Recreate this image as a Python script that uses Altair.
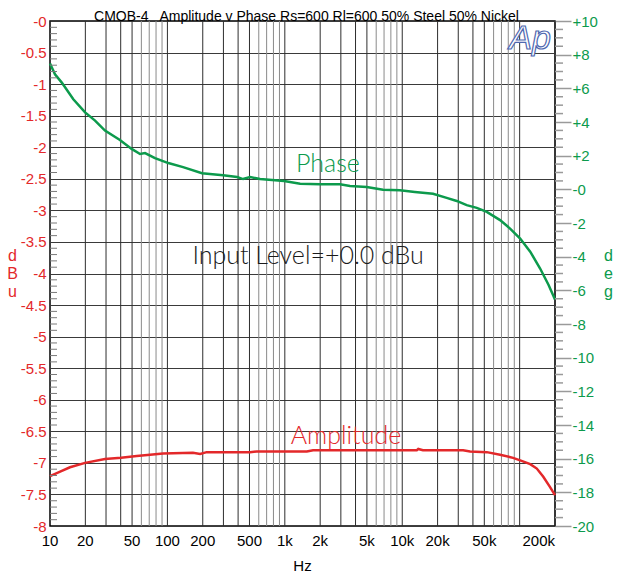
import altair as alt
import pandas as pd

# ---- data ----
amp_freq = [10, 12.2, 14.8, 19.9, 29.4, 40.3, 54.8, 71.1, 91.7, 165, 190, 216, 506, 577,
            1540, 1740, 13300, 13700, 15000, 33000, 37800, 52500, 68100, 87900, 101000,
            123000, 140000, 159000, 181000, 200000]
amp_db = [-7.21, -7.14, -7.07, -7.00, -6.94, -6.92, -6.89, -6.87, -6.85, -6.84, -6.86, -6.83,
          -6.83, -6.82, -6.82, -6.80, -6.80, -6.78, -6.80, -6.80, -6.82, -6.83, -6.87, -6.92,
          -6.96, -7.02, -7.09, -7.22, -7.38, -7.51]

phase_freq = [10, 11.03, 12.6, 15.8, 19.9, 24.2, 29.4, 39.4, 49.6, 58.5, 64.5, 78.4, 101.8,
              136, 197, 298, 392, 441, 506, 615, 985, 1350, 2000, 2950, 3590, 4980, 6860,
              9570, 12800, 18300, 23900, 29100, 35400, 43100, 52500, 68100, 82900, 101000,
              123000, 149000, 176000, 200000]
phase_deg = [7.48, 6.83, 6.34, 5.35, 4.57, 4.08, 3.49, 2.93, 2.40, 2.10, 2.15, 1.85, 1.56,
             1.32, 0.96, 0.83, 0.73, 0.61, 0.73, 0.61, 0.49, 0.33, 0.30, 0.30, 0.20, 0.14,
             -0.02, -0.06, -0.16, -0.26, -0.51, -0.69, -0.94, -1.10, -1.34, -1.83, -2.33,
             -2.92, -3.70, -4.69, -5.67, -6.55]

x_labels = [10, 20, 50, 100, 200, 500, 1000, 2000, 5000, 10000, 20000, 50000]
x_labels_end = [200000]
x_title = ["Hz"]
x_title_f = [1414]
grid_dark = [m * 10 ** e for e in range(1, 6) for m in (1, 2, 3, 4, 5) if 10 < m * 10 ** e <= 200000]
grid_light = [m * 10 ** e for e in range(1, 5) for m in (6, 7, 8, 9)]
db_major = [-8 + 0.5 * i for i in range(17)]
db_minor = [round(-8 + 0.1 * i, 1) for i in range(81) if i % 5 != 0]
deg_major = list(range(-20, 11, 2))
deg_minor = [-20 + 0.5 * i for i in range(61) if i % 4 != 0]

title_text = ["CMOB-4\u00a0\u00a0 Amplitude v Phase Rs=600 Rl=600 50% Steel 50% Nickel"]
title_f = [1530]
amp_note = ["Amplitude"]
amp_note_f = [3320]
amp_note_v = [-6.57]
level_note = ["Input Level=+0.0 dBu"]
level_note_f = [1580]
level_note_v = [-3.73]
phase_note = ["Phase"]
phase_note_f = [2330]
phase_note_v = [1.5]
logo_text = ["Ap"]
logo_f = [122700]
logo_v = [-0.44]

RED = "#e3282a"
GREEN = "#0c9a4c"
FONT = "Liberation Sans"
NOTE_FONT = "Lato"
W, H = 505, 505

xs = alt.Scale(type="log", domain=[10, 200000], nice=False)
ys_amp = alt.Scale(domain=[-8, 0], nice=False, zero=False)
ys_ph = alt.Scale(domain=[-20, 10], nice=False, zero=False)
X = alt.X("f:Q", scale=xs, axis=None)

amp_axis = alt.Axis(
    orient="left", values=db_major,
    labelExpr="datum.value == 0 ? '-0' : '' + datum.value",
    labelColor=RED, labelFont=FONT, labelFontSize=15, labelPadding=4,
    ticks=False, domain=False, grid=True, gridColor="#3a3a3a", gridWidth=1,
    title=["d", "B", "u"], titleAngle=0, titleColor=RED, titleFont=FONT, titleFontSize=16,
    titleFontWeight="normal", titleX=-38, titleY=234, titleAlign="center",
    titleBaseline="middle", titleLineHeight=18,
)

ph_axis = alt.Axis(
    orient="right", values=deg_major,
    labelExpr="datum.value > 0 ? '+' + datum.value : (datum.value == 0 ? '-0' : '' + datum.value)",
    labelColor=GREEN, labelFont=FONT, labelFontSize=15, labelPadding=1,
    tickSize=16, tickColor="#9a9a9a", tickWidth=1.5, domain=False, grid=False,
    title=["d", "e", "g"], titleAngle=0, titleColor=GREEN, titleFont=FONT, titleFontSize=16,
    titleFontWeight="normal", titleX=53, titleY=234, titleAlign="center",
    titleBaseline="middle", titleLineHeight=18,
)

amp_df = pd.DataFrame({"f": amp_freq, "v": amp_db})
ph_df = pd.DataFrame({"f": phase_freq, "v": phase_deg})

grid_d = alt.Chart(pd.DataFrame({"f": grid_dark})).mark_rule(color="#2e2e2e", strokeWidth=1).encode(x=X)
grid_l = alt.Chart(pd.DataFrame({"f": grid_light})).mark_rule(color="#8a8a8a", strokeWidth=1).encode(x=X)

amp_line = alt.Chart(amp_df).mark_line(color=RED, strokeWidth=2.5).encode(
    x=X, y=alt.Y("v:Q", scale=ys_amp, axis=amp_axis),
)
ph_line = alt.Chart(ph_df).mark_line(color=GREEN, strokeWidth=2.5).encode(
    x=X, y=alt.Y("v:Q", scale=ys_ph, axis=ph_axis),
)
amp_ticks = alt.Chart(pd.DataFrame({"v": db_minor})).mark_rule(color="#7a7a7a", strokeWidth=1).encode(
    y=alt.Y("v:Q", scale=ys_amp, axis=None), x=alt.value(0), x2=alt.value(7)
)
ph_ticks = alt.Chart(pd.DataFrame({"v": deg_minor})).mark_rule(color="#9a9a9a", strokeWidth=1.5).encode(
    y=alt.Y("v:Q", scale=ys_ph, axis=None), x=alt.value(W), x2=alt.value(W + 8)
)

# x-axis labels drawn through the x scale
xlab = alt.Chart(pd.DataFrame({"f": x_labels})).transform_calculate(
    t="datum.f >= 1000 ? (datum.f/1000) + 'k' : '' + datum.f"
).mark_text(font=FONT, fontSize=15, color="black", baseline="middle", align="center").encode(
    x=X, y=alt.value(H + 15), text="t:N"
)
xlab_end = alt.Chart(pd.DataFrame({"f": x_labels_end})).transform_calculate(
    t="(datum.f/1000) + 'k'"
).mark_text(font=FONT, fontSize=15, color="black", baseline="middle", align="right").encode(
    x=X, y=alt.value(H + 15), text="t:N"
)
xtitle = alt.Chart(pd.DataFrame({"f": x_title_f, "t": x_title})).mark_text(
    font=FONT, fontSize=15, color="black", baseline="middle", align="center"
).encode(x=X, y=alt.value(H + 40), text="t:N")
ctitle = alt.Chart(pd.DataFrame({"f": title_f, "t": title_text})).mark_text(
    font=FONT, fontSize=14, color="black", baseline="alphabetic", align="center"
).encode(x=X, y=alt.value(0), text="t:N")


def note(fs, vs, ts, scale, **kw):
    return alt.Chart(pd.DataFrame({"f": fs, "v": vs, "t": ts})).mark_text(**kw).encode(
        x=X, y=alt.Y("v:Q", scale=scale, axis=None), text="t:N",
    )


amp_lbl = note(amp_note_f, amp_note_v, amp_note, ys_amp, color=RED, font=NOTE_FONT, fontSize=25,
               fontWeight=300, baseline="middle", align="center")
lvl_lbl = note(level_note_f, level_note_v, level_note, ys_amp, color="#1a1a1a", font=NOTE_FONT,
               fontSize=25, fontWeight=300, baseline="middle", align="center")
ph_lbl = note(phase_note_f, phase_note_v, phase_note, ys_ph, color=GREEN, font=NOTE_FONT, fontSize=25,
              fontWeight=300, baseline="middle", align="center")
logo = note(logo_f, logo_v, logo_text, ys_amp, fill="white", stroke="#4f68b0", strokeWidth=1.2,
            font=FONT, fontSize=34, fontStyle="italic", baseline="alphabetic", align="center")

chart = alt.layer(
    grid_d, grid_l, amp_line, ph_line, amp_ticks, ph_ticks, xlab, xlab_end, xtitle, ctitle,
    amp_lbl, lvl_lbl, ph_lbl, logo
).resolve_scale(
    y="independent"
).properties(
    width=W, height=H,
    autosize=alt.AutoSizeParams(type="none"),
    padding={"left": 42, "top": 13, "right": 58, "bottom": 50},
    background="white",
).configure_view(stroke="black", strokeWidth=1.5)

chart.save("out.html", embed_options={"renderer": "svg", "actions": False})
